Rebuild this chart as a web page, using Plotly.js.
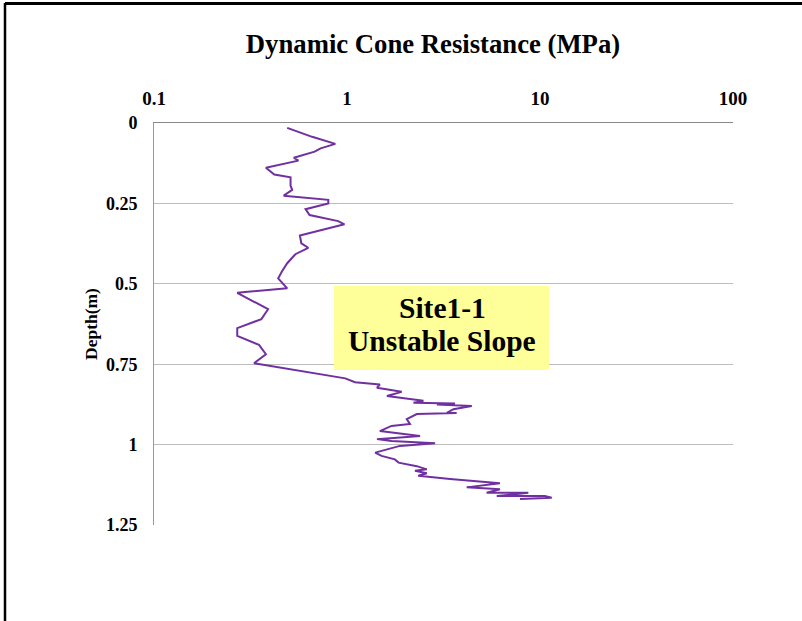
<!DOCTYPE html>
<html>
<head>
<meta charset="utf-8">
<script src="https://cdn.plot.ly/plotly-3.0.1.min.js"></script>
<style>html,body{margin:0;padding:0;background:#fff}#chart{width:802px;height:621px}</style>
</head>
<body>
<div id="chart"></div>
<script>
const depth = [0.015,0.043,0.065,0.079,0.089,0.102,0.108,0.117,0.139,0.160,0.169,0.195,0.208,0.226,0.239,0.250,0.268,0.286,0.305,0.315,0.350,0.374,0.388,0.408,0.436,0.462,0.483,0.514,0.528,0.579,0.610,0.638,0.662,0.690,0.719,0.747,0.781,0.794,0.806,0.813,0.823,0.836,0.849,0.858,0.864,0.870,0.872,0.875,0.880,0.890,0.901,0.902,0.905,0.921,0.936,0.942,0.958,0.973,0.983,0.989,0.996,1.004,1.025,1.035,1.046,1.056,1.067,1.077,1.081,1.089,1.097,1.107,1.112,1.120,1.133,1.139,1.150,1.150,1.160,1.160,1.165,1.169];
const dcr = [0.49,0.66,0.87,0.73,0.68,0.57,0.53,0.56,0.38,0.42,0.51,0.51,0.52,0.47,0.80,0.80,0.61,0.64,0.90,0.97,0.57,0.58,0.63,0.54,0.49,0.46,0.44,0.49,0.27,0.39,0.36,0.27,0.27,0.35,0.38,0.33,0.73,0.98,1.10,1.48,1.43,1.92,1.61,2.12,2.49,2.21,3.63,2.92,4.43,3.56,3.29,3.70,2.30,2.04,2.12,1.70,1.48,2.39,1.43,1.70,2.86,1.88,1.40,1.51,1.77,1.85,2.30,2.59,2.25,2.59,2.34,3.42,4.34,6.20,4.17,6.20,5.29,8.70,5.97,10.6,11.5,7.88];
const xTickVals = [0.1,1,10,100];
const xTickText = ['0.1','1','10','100'];
const yTickVals = [0,0.25,0.5,0.75,1,1.25];
const yTickText = ['0','0.25','0.5','0.75','1','1.25'];
const noteLines = ['Site1-1','Unstable Slope'];

const ff = 'Liberation Serif, Times New Roman, serif';
const trace = {
  x: dcr, y: depth, type:'scatter', mode:'lines',
  line:{color:'#7030A0', width:2}, hoverinfo:'skip', showlegend:false
};
const px = v => (v-154)/579;
const py = v => (525-v)/402;
const layout = {
  width:802, height:621,
  margin:{l:154, r:69, t:123, b:96},
  paper_bgcolor:'#fff', plot_bgcolor:'#fff',
  font:{family:ff, color:'#000'},
  title:{text:'<b>Dynamic Cone Resistance (MPa)</b>', font:{family:ff, size:26.7, color:'#000'}, x:433/802, xanchor:'center', y:1-44/621, yanchor:'middle'},
  xaxis:{type:'log', range:[-1,2], side:'top', tickvals:xTickVals, ticktext:xTickText,
    tickfont:{family:ff, size:19, color:'#000', weight:'bold'},
    showgrid:false, zeroline:false, showline:true, linecolor:'#888', linewidth:1,
    ticks:'outside', ticklen:9, tickcolor:'rgba(0,0,0,0)', fixedrange:true},
  yaxis:{range:[1.25,0], tickvals:yTickVals, ticktext:yTickText,
    tickfont:{family:ff, size:18, color:'#000', weight:'bold'},
    showgrid:true, gridcolor:'#bdbdbd', gridwidth:1, zeroline:false,
    showline:true, linecolor:'#999', linewidth:1,
    ticks:'outside', ticklen:12, tickcolor:'rgba(0,0,0,0)',
    title:{text:'<b>Depth(m)</b>', font:{family:ff, size:17.5, color:'#000'}, standoff:3}, fixedrange:true},
  annotations:[
    {xref:'paper', yref:'paper', x:px(442), y:py(308), xanchor:'center', yanchor:'middle',
     text:'<b>'+noteLines[0]+'</b>', showarrow:false, font:{family:ff, size:29.5, color:'#000'}},
    {xref:'paper', yref:'paper', x:px(442), y:py(341), xanchor:'center', yanchor:'middle',
     text:'<b>'+noteLines[1]+'</b>', showarrow:false, font:{family:ff, size:29.5, color:'#000'}}
  ],
  shapes:[
    {type:'rect', xref:'paper', yref:'paper', x0:px(334), x1:px(549), y0:py(370), y1:py(286), fillcolor:'#FFFF99', line:{width:0}, layer:'above'},
    {type:'line', xref:'paper', yref:'paper', x0:px(5), x1:px(5), y0:py(621), y1:py(3), line:{color:'#000', width:2.5}},
    {type:'line', xref:'paper', yref:'paper', x0:px(5), x1:px(802), y0:py(3.5), y1:py(3.5), line:{color:'#000', width:3}}
  ]
};
Plotly.newPlot('chart', [trace], layout, {displayModeBar:false, staticPlot:true});
</script>
</body>
</html>
